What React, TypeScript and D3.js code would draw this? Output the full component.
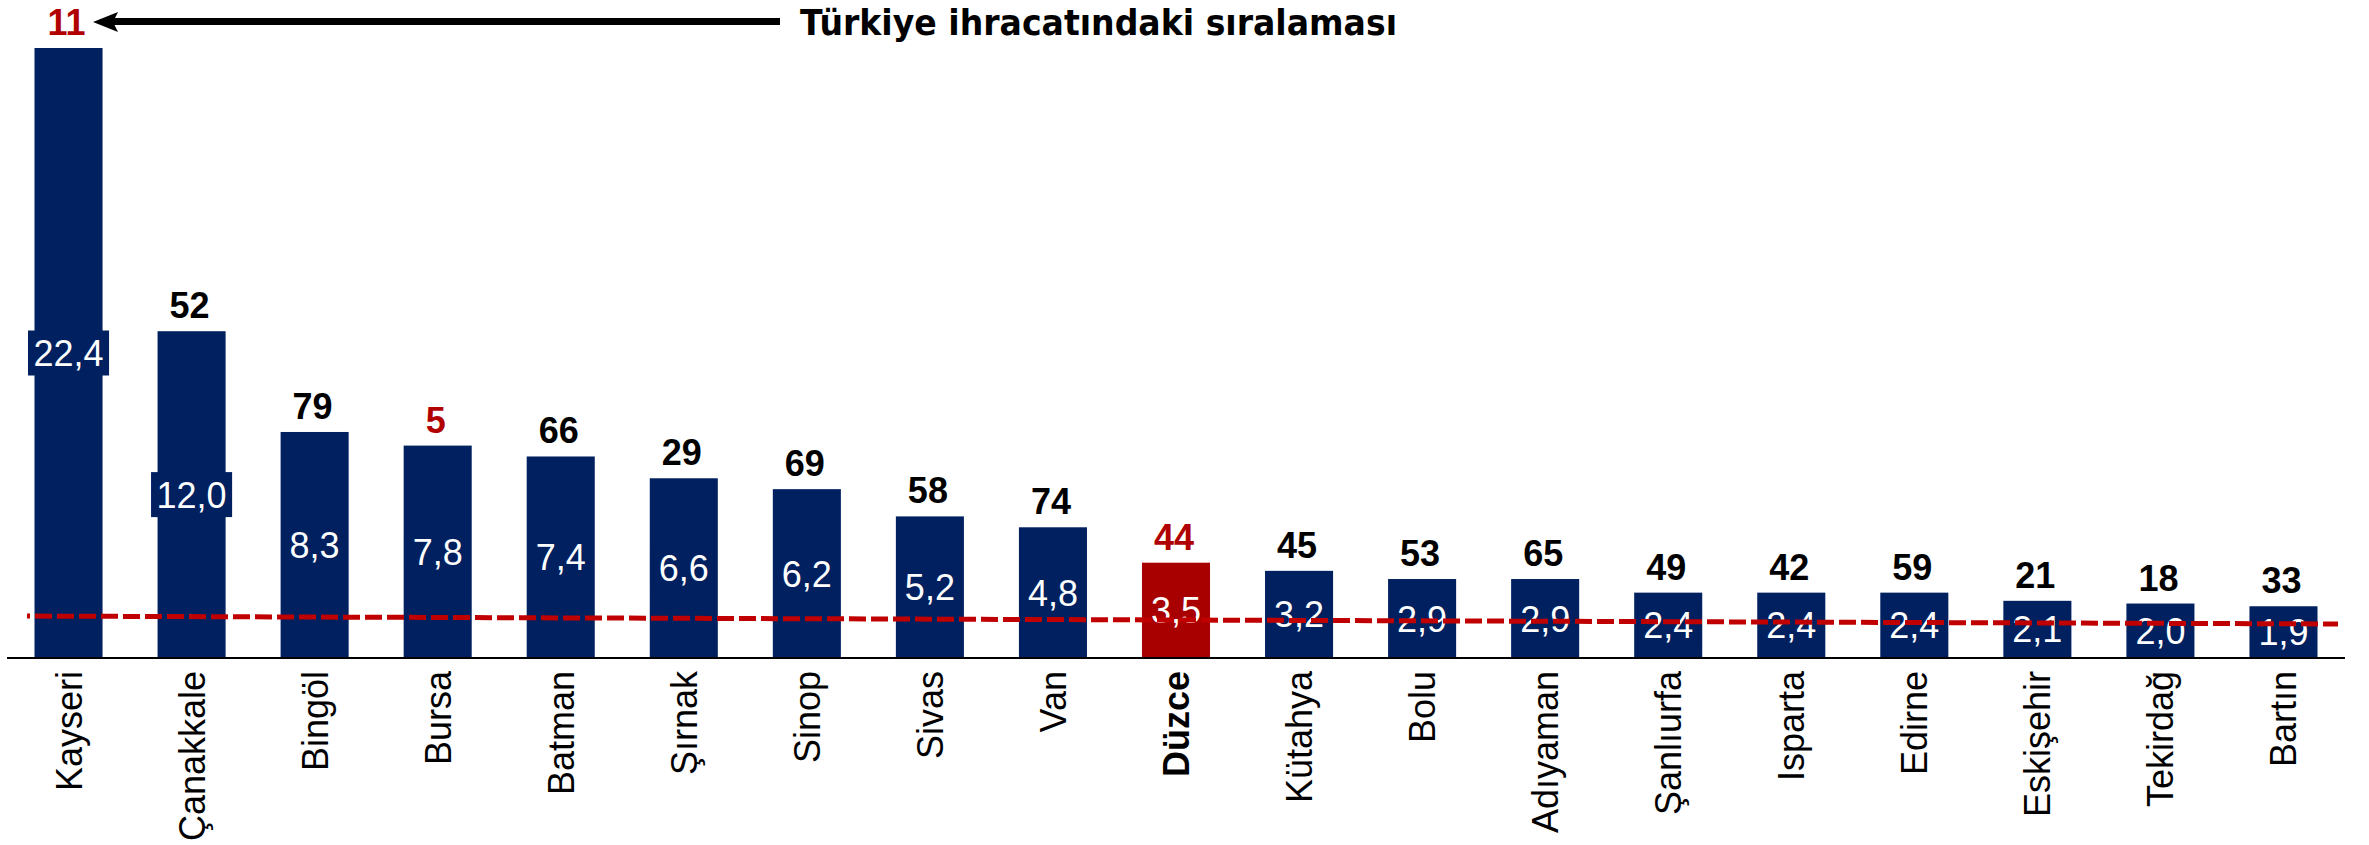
import React from "react";
import * as d3 from "d3";

const categories = ["Kayseri", "Çanakkale", "Bingöl", "Bursa", "Batman", "Şırnak", "Sinop", "Sivas", "Van", "Düzce", "Kütahya", "Bolu", "Adıyaman", "Şanlıurfa", "Isparta", "Edirne", "Eskişehir", "Tekirdağ", "Bartın"];
const values = [22.4, 12.0, 8.3, 7.8, 7.4, 6.6, 6.2, 5.2, 4.8, 3.5, 3.2, 2.9, 2.9, 2.4, 2.4, 2.4, 2.1, 2.0, 1.9];
const ranks = [11, 52, 79, 5, 66, 29, 69, 58, 74, 44, 45, 53, 65, 49, 42, 59, 21, 18, 33];
const redRanks = ["Kayseri", "Bursa", "Düzce"];
const highlight = "Düzce";
const refLine = [1.54, 1.25];
const title = "Türkiye ihracatındaki sıralaması";

const W = 2369;
const H = 845;
const NAVY = "#002060";
const RED_BAR = "#A80000";
const RED_TXT = "#B00000";
const DASH = "#C00000";
const FONT = "'Liberation Sans', Arial, sans-serif";

const x = d3.scaleBand<string>().domain(categories).range([7, 2345]).paddingInner(0.447).paddingOuter(0.2235);
const y = d3.scaleLinear().domain([0, 22.4]).range([658, 48]);
const fmt = (v: number) => d3.format(".1f")(v).replace(".", ",");
const textW = (s: string) => s.split("").reduce((a, c) => a + (c === "," ? 0.278 : 0.556), 0) * 36;

export default function App() {
  const bw = x.bandwidth();
  const lineX0 = 27;
  const lineX1 = 2338;
  return (
    <svg width={W} height={H} style={{ position: "absolute", left: 0, top: 0, background: "#fff" }} fontFamily={FONT}>
      {categories.map((c, i) => {
        const x0 = x(c)!;
        const cx = x0 + bw / 2;
        const top = y(values[i]);
        const mid = (top + y(0)) / 2;
        const fill = c === highlight ? RED_BAR : NAVY;
        const lbl = fmt(values[i]);
        const tw = textW(lbl) + 11;
        return (
          <g key={c}>
            <rect x={x0} y={top} width={bw} height={y(0) - top} fill={fill} />
            <rect x={cx - tw / 2} y={mid - 22.5} width={tw} height={45} fill={fill} />
            <text x={cx} y={mid + 13} textAnchor="middle" fontSize={36} fill="#fff">{lbl}</text>
            <text x={cx - 2} y={top - 13} textAnchor="middle" fontSize={36} fontWeight="bold" fill={redRanks.includes(c) ? RED_TXT : "#000"}>{ranks[i]}</text>
            <text transform={`translate(${cx},671) rotate(-90)`} y={13} textAnchor="end" fontSize={36} fontWeight={c === highlight ? "bold" : "normal"} fill="#000">{c}</text>
          </g>
        );
      })}
      <line x1={7} x2={2345} y1={y(0)} y2={y(0)} stroke="#000" strokeWidth={2} />
      <line x1={lineX0} x2={lineX1} y1={y(refLine[0])} y2={y(refLine[1])} stroke={DASH} strokeWidth={5} strokeDasharray="17 5" strokeDashoffset={14} />
      <line x1={780} x2={110} y1={21.5} y2={21.5} stroke="#000" strokeWidth={7} />
      <polygon points="93,22 118,12 113,22 118,32" fill="#000" />
      <text x={800} y={35} fontFamily="'DejaVu Sans', Verdana, sans-serif" fontWeight="bold" fontSize={35} textLength={597} lengthAdjust="spacingAndGlyphs" fill="#000">{title}</text>
    </svg>
  );
}
